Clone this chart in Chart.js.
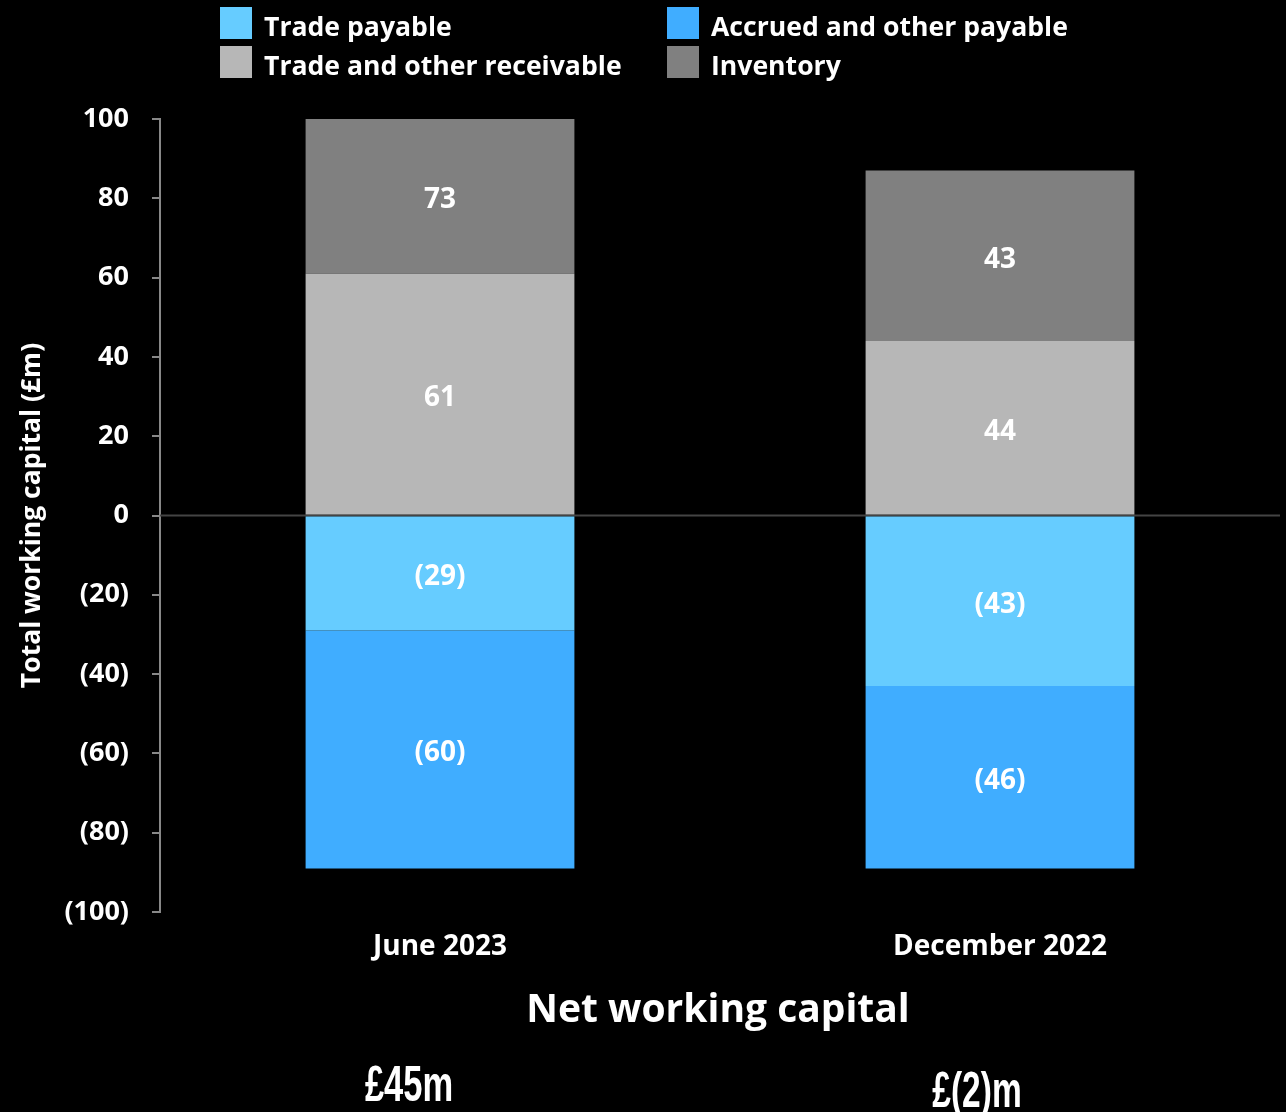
<!DOCTYPE html>
<html>
<head>
<meta charset="utf-8">
<script src="https://cdn.jsdelivr.net/npm/chart.js@4.4.1/dist/chart.umd.min.js"></script>
<style>
  html, body { margin: 0; padding: 0; background: #000; }
  #wrap { position: relative; width: 1286px; height: 1112px; background: #000; overflow: hidden; font-family: "Open Sans", sans-serif; color: #fff; }
  #c { position: absolute; left: 0; top: 0; }
  .leg { position: absolute; display: flex; align-items: center; font-weight: 700; font-size: 26.6px; white-space: nowrap; height: 32px; }
  .leg .box { width: 32px; height: 32px; margin-right: 12px; }
  .leg .txt { position: relative; top: 3px; }
  .title { position: absolute; left: 718px; top: 983px; transform: translateX(-50%); font-weight: 700; font-size: 39px; white-space: nowrap; line-height: 48px; }
  .nwc { position: absolute; font-family: "Liberation Sans", sans-serif; font-weight: 700; font-size: 50px; line-height: 50px; white-space: nowrap; }
</style>
</head>
<body>
<div id="wrap">
  <canvas id="c" width="1286" height="1112"></canvas>
  <div id="legend"></div>
  <div class="title">Net working capital</div>
  <div class="nwc" id="n1" style="left:409px; top:1059px; transform: translateX(-50%) scaleX(0.69);"></div>
  <div class="nwc" id="n2" style="left:977px; top:1065px; transform: translateX(-50%) scaleX(0.67);"></div>
</div>
<script>
// ---- data ----
const categories = ["June 2023", "December 2022"];
const tradePayable = [-29, -43];
const accruedPayable = [-60, -46];
const tradeReceivable = [61, 44];
const inventory = [73, 43];
const netWorkingCapital = ["£45m", "£(2)m"];
const seriesNames = ["Trade payable", "Accrued and other payable", "Trade and other receivable", "Inventory"];
const seriesColors = ["#66ccff", "#40adff", "#b7b7b7", "#808080"];
const yMin = -100, yMax = 100, yStep = 20;

function fmt(v) { return v < 0 ? "(" + Math.abs(v) + ")" : String(v); }

// legend (2 columns x 2 rows)
const legendPos = [[220, 7], [667, 7], [220, 46], [667, 46]];
const legendEl = document.getElementById("legend");
seriesNames.forEach((name, i) => {
  const d = document.createElement("div");
  d.className = "leg";
  d.style.left = legendPos[i][0] + "px";
  d.style.top = legendPos[i][1] + "px";
  d.innerHTML = '<span class="box" style="background:' + seriesColors[i] + '"></span><span class="txt">' + name + '</span>';
  legendEl.appendChild(d);
});
document.getElementById("n1").textContent = netWorkingCapital[0];
document.getElementById("n2").textContent = netWorkingCapital[1];

const seriesData = [tradePayable, accruedPayable, tradeReceivable, inventory];

const zeroLine = {
  id: "zeroLine",
  beforeDatasetsDraw(chart) {
    const { ctx, chartArea } = chart;
    const y = chart.scales.y.getPixelForValue(0);
    ctx.save();
    ctx.strokeStyle = "#444";
    ctx.lineWidth = 2;
    ctx.beginPath();
    ctx.moveTo(chartArea.left, y);
    ctx.lineTo(chartArea.right, y);
    ctx.stroke();
    ctx.restore();
  }
};

const segLabels = {
  id: "segLabels",
  afterDatasetsDraw(chart) {
    const { ctx, chartArea } = chart;
    ctx.save();
    ctx.font = "700 28px 'Open Sans'";
    ctx.fillStyle = "#fff";
    ctx.textAlign = "center";
    ctx.textBaseline = "middle";
    chart.data.datasets.forEach((ds, di) => {
      const meta = chart.getDatasetMeta(di);
      meta.data.forEach((bar, i) => {
        const top = Math.max(Math.min(bar.y, bar.base), chartArea.top);
        const bot = Math.min(Math.max(bar.y, bar.base), chartArea.bottom);
        if (bot <= top) return;
        ctx.fillText(fmt(ds.data[i]), bar.x, (top + bot) / 2 + 4);
      });
    });
    ctx.restore();
  }
};

new Chart(document.getElementById("c"), {
  type: "bar",
  data: {
    labels: categories,
    datasets: seriesData.map((d, i) => ({
      label: seriesNames[i],
      data: d,
      backgroundColor: seriesColors[i],
      borderWidth: 0,
      barPercentage: 0.48,
      categoryPercentage: 1,
      clip: 0
    }))
  },
  options: {
    responsive: false,
    devicePixelRatio: 1,
    animation: false,
    layout: { padding: { top: 119, left: 0, right: 6, bottom: 140 } },
    plugins: { legend: { display: false }, tooltip: { enabled: false } },
    scales: {
      x: {
        stacked: true,
        grid: { display: false, drawTicks: false },
        border: { display: false },
        ticks: { color: "#fff", font: { family: "Open Sans", weight: "700", size: 28 }, padding: 18 },
        afterFit(s) { s.height = 60; }
      },
      y: {
        stacked: true,
        min: yMin, max: yMax,
        afterFit(s) { s.width = 160; },
        grid: { drawOnChartArea: false, drawTicks: true, tickLength: 8, color: "#888", lineWidth: 2 },
        border: { display: true, color: "#888", width: 2 },
        ticks: {
          stepSize: yStep, color: "#fff", padding: 23,
          font: { family: "Open Sans", weight: "700", size: 27 },
          callback: (v) => fmt(v)
        },
        title: {
          display: true, text: "Total working capital (£m)", color: "#fff",
          font: { family: "Open Sans", weight: "700", size: 26.5 },
          padding: { top: 17, bottom: 0 }
        }
      }
    }
  },
  plugins: [zeroLine, segLabels]
});
</script>
</body>
</html>
